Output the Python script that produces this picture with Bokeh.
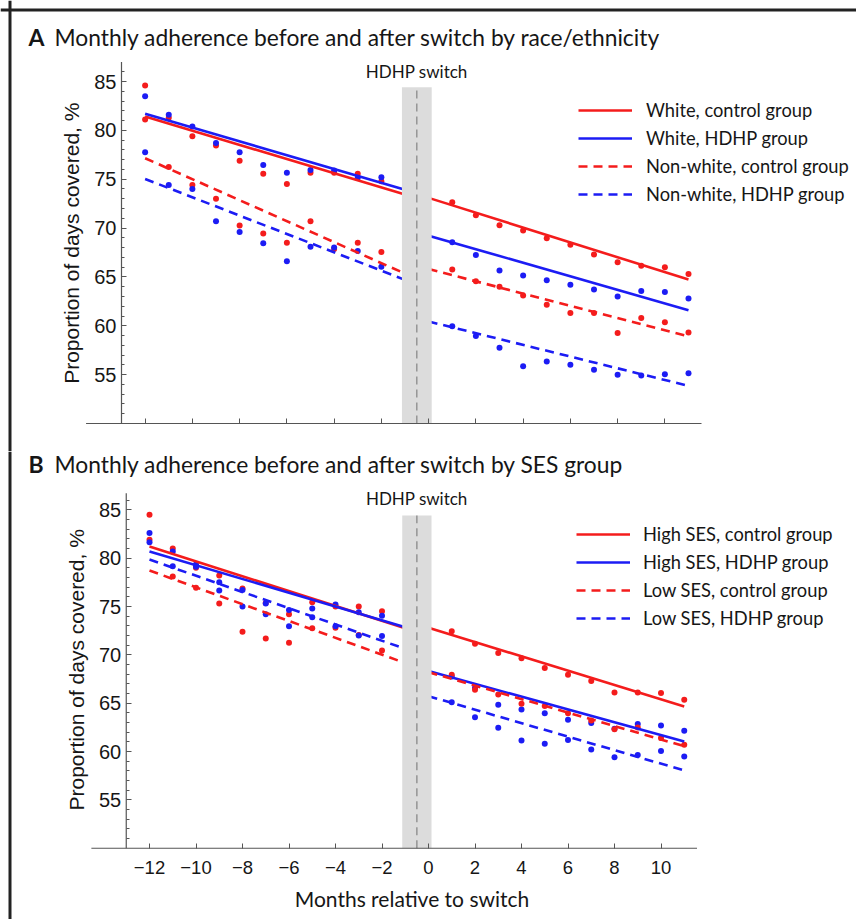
import math
from bokeh.plotting import figure
from bokeh.models import Legend, LegendItem, Label, FixedTicker, Range1d, Span
from bokeh.layouts import column
from bokeh.embed import file_html
from bokeh.resources import INLINE

# ---------------- data ----------------
months_pre = [-12, -11, -10, -9, -8, -7, -6, -5, -4, -3, -2]
months_post = [1, 2, 3, 4, 5, 6, 7, 8, 9, 10, 11]
fit_pre_months = [-12, -1]
fit_post_months = [0, 11]

x_ticks = [-12, -10, -8, -6, -4, -2, 0, 2, 4, 6, 8, 10]
x_tick_labels = ["−12", "−10", "−8", "−6", "−4", "−2", "0", "2", "4", "6", "8", "10"]
y_ticks = [55, 60, 65, 70, 75, 80, 85]
y_minor_ticks = list(range(51, 87))

switch_month = -0.5
switch_band = [-1.13, 0.13]
switch_band_top = 84.4

y_label = "Proportion of days covered, %"
x_label = "Months relative to switch"

# Panel A: race/ethnicity
a_title = "Monthly adherence before and after switch by race/ethnicity"
a_labels = ["White, control group", "White, HDHP group",
            "Non-white, control group", "Non-white, HDHP group"]
a_pre = [
    [84.6, 81.3, 79.4, 78.45, 76.9, 75.55, 74.5, 75.65, 75.65, 75.55, 74.8],
    [83.5, 81.6, 80.4, 78.7, 77.75, 76.45, 75.65, 75.95, 75.9, 75.15, 75.2],
    [81.1, 76.25, 74.4, 73.0, 70.25, 69.45, 68.5, 70.7, 67.85, 68.5, 67.55],
    [77.75, 74.4, 74.0, 70.7, 69.6, 68.45, 66.6, 68.1, 68.0, 67.65, 66.05],
]
a_post = [
    [72.65, 71.3, 70.3, 69.75, 68.95, 68.3, 67.3, 66.5, 66.15, 66.0, 65.3],
    [68.55, 67.25, 65.65, 65.15, 64.65, 64.2, 63.7, 63.0, 63.55, 63.45, 62.8],
    [65.75, 64.55, 64.0, 63.1, 62.15, 61.3, 61.3, 59.25, 60.8, 60.35, 59.3],
    [59.95, 58.95, 57.75, 55.85, 56.35, 56.0, 55.5, 55.0, 54.9, 55.05, 55.15],
]
a_fit_pre = [[81.42, 73.43], [81.69, 73.93], [77.15, 65.34], [75.03, 64.7]]
a_fit_post = [[73.09, 64.73], [69.22, 61.6], [65.8, 58.92], [60.44, 53.85]]

# Panel B: SES group
b_title = "Monthly adherence before and after switch by SES group"
b_labels = ["High SES, control group", "High SES, HDHP group",
            "Low SES, control group", "Low SES, HDHP group"]
b_pre = [
    [84.5, 81.0, 79.0, 78.2, 76.85, 75.35, 74.2, 75.45, 75.0, 75.0, 74.5],
    [82.6, 80.7, 79.35, 77.5, 76.7, 75.3, 74.65, 74.8, 75.2, 74.4, 74.05],
    [81.9, 78.1, 76.95, 75.3, 72.4, 71.7, 71.25, 72.75, 72.8, 72.05, 70.45],
    [81.65, 79.15, 79.1, 76.65, 75.0, 74.2, 72.95, 73.9, 72.95, 72.0, 71.95],
]
b_post = [
    [72.45, 71.15, 70.2, 69.65, 68.65, 67.95, 67.3, 66.1, 66.1, 66.05, 65.35],
    [67.75, 66.6, 64.85, 64.35, 63.95, 63.3, 62.95, 62.35, 62.85, 62.7, 62.15],
    [67.95, 66.4, 65.9, 64.95, 64.7, 63.95, 63.2, 62.3, 62.5, 61.4, 60.7],
    [65.1, 63.55, 62.45, 61.15, 60.8, 61.2, 60.2, 59.4, 59.65, 60.05, 59.5],
]
b_fit_pre = [[81.2, 72.75], [80.7, 72.85], [78.72, 69.15], [79.86, 70.62]]
b_fit_post = [[72.81, 64.65], [68.32, 61.05], [68.21, 60.55], [65.73, 58.05]]

# ---------------- styles ----------------
RED = "#f41c1c"
BLUE = "#1c1cf4"
colors = [RED, BLUE, RED, BLUE]
dashes = ["solid", "solid", "9 6", "9 6"]
TXT = "#161616"
AXC = "#555555"
UI_FONT = "Lato"
AX_FONT = "Liberation Sans"
W = 856


def make_panel(title, letter, labels, pre, post, fit_pre, fit_post, height,
               x_px_per_unit, x_anchor_px, y_px_per_unit, y85_px, y_axis_top,
               legend_loc, legend_standoff, show_xlabels, label_y, title_y, top_border):
    # frame covers the whole canvas; axes drawn at fixed locations inside it
    x0 = -13 - x_anchor_px / x_px_per_unit
    x1 = x0 + W / x_px_per_unit
    y1 = 85 + y85_px / y_px_per_unit
    y0 = y1 - height / y_px_per_unit

    p = figure(width=W, height=height, x_range=Range1d(x0, x1),
               y_range=Range1d(y0, y1), output_backend="svg",
               toolbar_location=None, min_border=0)
    p.grid.visible = False
    p.outline_line_color = None
    p.background_fill_color = "white"
    p.border_fill_color = "white"

    items = []
    for i in range(4):
        p.scatter(months_pre, pre[i], size=6, fill_color=colors[i], line_color=None)
        p.scatter(months_post, post[i], size=6, fill_color=colors[i], line_color=None)
    for i in range(4):
        r = p.line(fit_pre_months, fit_pre[i], line_width=2.6, line_color=colors[i],
                   line_dash=dashes[i])
        p.line(fit_post_months, fit_post[i], line_width=2.6, line_color=colors[i],
               line_dash=dashes[i])
        items.append(LegendItem(label=labels[i], renderers=[r]))

    p.quad(left=[switch_band[0]], right=[switch_band[1]], bottom=[50],
           top=[switch_band_top], fill_color="#dcdcdc", line_color=None)
    p.segment(x0=[switch_month], y0=[50], x1=[switch_month], y1=[switch_band_top],
              line_color="#8a8a8a", line_dash="8 5", line_width=1.3)
    p.add_layout(Label(x=switch_month, y=label_y, text="HDHP switch", text_align="center",
                       text_baseline="middle", text_font=UI_FONT,
                       text_font_size="17px", text_color=TXT))

    # axis lines (crossing at -13, 50)
    p.segment(x0=[-13], y0=[50], x1=[-13], y1=[y_axis_top], line_color=AXC, line_width=1.2)
    p.segment(x0=[-14.5], y0=[50], x1=[11.55], y1=[50], line_color=AXC, line_width=1.2)

    legend = Legend(items=items, location=legend_loc, glyph_width=54, glyph_height=20,
                    label_standoff=legend_standoff, spacing=6, padding=0, margin=0,
                    border_line_color=None, background_fill_alpha=0,
                    label_text_font=UI_FONT, label_text_font_size="18.3px",
                    label_text_color=TXT, label_height=20)
    p.add_layout(legend)

    # title: bold letter + text
    p.add_layout(Label(x=28, y=height - title_y, x_units="screen", y_units="screen",
                       text=letter, text_font=UI_FONT, text_font_size="23px",
                       text_font_style="bold", text_color=TXT, text_baseline="middle"))
    p.add_layout(Label(x=54, y=height - title_y, x_units="screen", y_units="screen",
                       text=title, text_font=UI_FONT, text_font_size="22.8px",
                       text_color=TXT, text_baseline="middle"))

    # y axis title
    p.add_layout(Label(x=-13, y=68.45, x_offset=-50, text=y_label, angle=math.pi / 2,
                       text_align="center", text_baseline="middle", text_font=AX_FONT,
                       text_font_size="21px", text_color=TXT))

    # frame border of the original figure
    p.add_layout(Span(location=x0 + 9.5 / x_px_per_unit, dimension="height",
                      line_color="#222222", line_width=3))
    if top_border:
        p.add_layout(Span(location=y1 - 9.5 / y_px_per_unit, dimension="width",
                          line_color="#222222", line_width=3))

    # axes
    yax = p.yaxis[0]
    yax.fixed_location = -13
    yax.ticker = FixedTicker(ticks=y_ticks, minor_ticks=y_minor_ticks)
    yax.axis_line_color = None
    yax.major_tick_line_color = AXC
    yax.minor_tick_line_color = AXC
    yax.major_tick_in = 5
    yax.major_tick_out = 0
    yax.minor_tick_in = 3
    yax.minor_tick_out = 0
    yax.major_label_text_font = AX_FONT
    yax.major_label_text_font_size = "20px"
    yax.major_label_text_color = TXT
    yax.major_label_standoff = 5

    xax = p.xaxis[0]
    xax.fixed_location = 50
    xax.ticker = FixedTicker(ticks=x_ticks, minor_ticks=[])
    xax.axis_line_color = None
    xax.major_tick_line_color = AXC
    xax.major_tick_in = 5
    xax.major_tick_out = 0
    xax.minor_tick_line_color = None
    if show_xlabels:
        xax.major_label_overrides = {t: s for t, s in zip(x_ticks, x_tick_labels)}
        xax.major_label_text_font = AX_FONT
        xax.major_label_text_font_size = "18.5px"
        xax.major_label_text_color = TXT
        xax.major_label_standoff = 13
        p.add_layout(Label(x=-0.71, y=50 - 50.2 / y_px_per_unit, text=x_label,
                           text_align="center", text_baseline="middle",
                           text_font=UI_FONT, text_font_size="21px", text_color=TXT))
    else:
        xax.major_label_overrides = {t: "" for t in x_ticks}
        xax.major_label_text_font_size = "1px"

    return p


pa = make_panel(a_title, "A", a_labels, a_pre, a_post, a_fit_pre, a_fit_post,
                height=451, x_px_per_unit=23.625, x_anchor_px=121,
                y_px_per_unit=9.771, y85_px=81, y_axis_top=87.0,
                legend_loc=(578, 246), legend_standoff=14, show_xlabels=False,
                label_y=86.0, title_y=36.5, top_border=True)

pb = make_panel(b_title, "B", b_labels, b_pre, b_post, b_fit_pre, b_fit_post,
                height=468, x_px_per_unit=23.25, x_anchor_px=125.75,
                y_px_per_unit=9.67, y85_px=58.3, y_axis_top=86.7,
                legend_loc=(576, 290), legend_standoff=13, show_xlabels=True,
                label_y=86.15, title_y=12.5, top_border=False)

layout = column(pa, pb, spacing=0)

open("out.html", "w").write(file_html(layout, INLINE))
